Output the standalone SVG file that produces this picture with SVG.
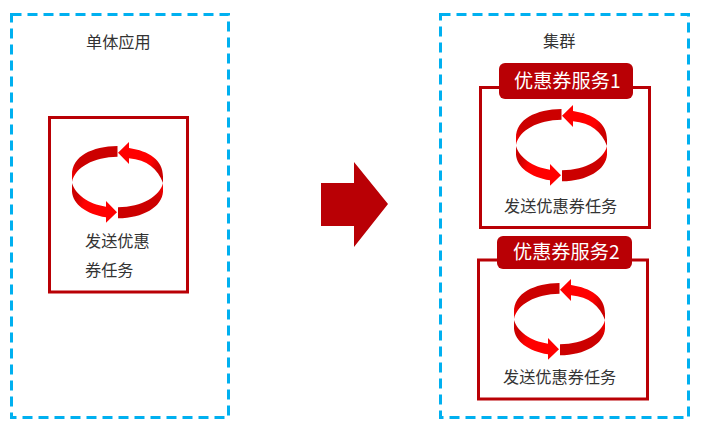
<svg xmlns="http://www.w3.org/2000/svg" width="702" height="431" viewBox="0 0 702 431">
<style>
.zone{fill:#fff;stroke:#00b0f0;stroke-width:3;stroke-dasharray:10 6}
.box{fill:#fff;stroke:#b90005;stroke-width:3}
.tab{fill:#b90005}
.t{font-family:"Noto Sans CJK SC","Liberation Sans",sans-serif;font-size:16.200px;fill:#333}
.h{font-family:"Noto Sans CJK SC","Liberation Sans",sans-serif;font-size:19.200px;fill:#fff}
.arrow{fill:#b90005}
</style>
<defs>
<linearGradient id="ga" x1="0" y1="0" x2="1" y2="0.3"><stop offset="0" stop-color="#f00"/><stop offset="0.8" stop-color="#f00"/><stop offset="1" stop-color="#c00"/></linearGradient>
<linearGradient id="gb" x1="1" y1="1" x2="0" y2="0.7"><stop offset="0" stop-color="#f00"/><stop offset="0.8" stop-color="#f00"/><stop offset="1" stop-color="#c00"/></linearGradient>
<linearGradient id="gc" x1="1" y1="0" x2="0" y2="1"><stop offset="0" stop-color="#c00"/><stop offset="0.7" stop-color="#c00"/><stop offset="1" stop-color="#f00"/></linearGradient>
<linearGradient id="gd" x1="0" y1="1" x2="1" y2="0"><stop offset="0" stop-color="#c00"/><stop offset="0.7" stop-color="#c00"/><stop offset="1" stop-color="#f00"/></linearGradient>
<g id="cycle">
<path fill="url(#gc)" d="M45.500 4C20 4.500 0 14 0 33V40C3 25 22 15 45.500 14.700Z"/>
<path fill="url(#ga)" d="M46 10.700L57 0V6C77 9 91 18 91 34.700V41C86 27 75 18 57 16.300V22Z"/>
<path fill="url(#gd)" d="M46 65.300C70 65 88 54 91 41V49.700C90 65 71 76 46 76.300Z"/>
<path fill="url(#gb)" d="M45 70.300L34 59V64.700C16 62 3 52 0 41V49.700C1 62 14 72 34 75.300V80.700Z"/>
</g>
</defs>
<g id="connectors"><polygon class="arrow" points="321,183 354,183 354,162 388,204 354,247 354,226 321,226"/></g>
<g id="mono">
<rect class="zone" x="11.500" y="14.500" width="217" height="403"/>
<text class="t" x="86" y="48">单体应用</text>
</g>
<g id="mono-task">
<rect class="box" x="49.500" y="117.500" width="138" height="174.500"/>
<use href="#cycle" x="72" y="142"/>
<text class="t" x="85" y="247">发送优惠</text>
<text class="t" x="85" y="276">券任务</text>
</g>
<g id="cluster">
<rect class="zone" x="440.500" y="14.500" width="248" height="403"/>
<text class="t" x="543" y="47">集群</text>
</g>
<g id="service1">
<rect class="box" x="480.500" y="87.500" width="169" height="140"/>
<rect class="tab" x="499" y="63" width="134" height="36" rx="6"/>
<text class="h" x="514" y="88">优惠券服务1</text>
<use href="#cycle" x="516" y="105"/>
<text class="t" x="504" y="212">发送优惠券任务</text>
</g>
<g id="service2">
<rect class="box" x="478.500" y="260" width="169" height="139"/>
<rect class="tab" x="497" y="236" width="135" height="33" rx="6"/>
<text class="h" x="513" y="259">优惠券服务2</text>
<use href="#cycle" x="514" y="279"/>
<text class="t" x="503" y="383">发送优惠券任务</text>
</g>
</svg>
